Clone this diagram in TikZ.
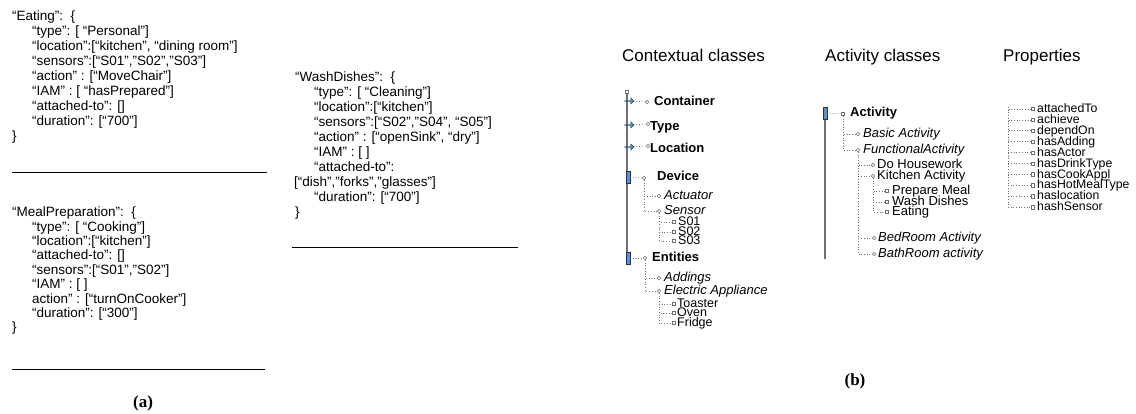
\documentclass[tikz,border=0pt]{standalone}
\usepackage{fontspec}
\newfontfamily\arial{Liberation Sans}
\newfontfamily\capserif{Liberation Serif}
\usetikzlibrary{shapes.arrows}
\definecolor{mblue}{HTML}{5B8FD6}
\definecolor{mdark}{HTML}{1F3550}
\definecolor{vgray}{HTML}{707070}
\definecolor{dgray}{HTML}{707070}
\tikzset{
  txt/.style={anchor=west, inner sep=0pt, text height=0.72em, text depth=0pt},
  json/.style={txt, font=\arial\fontsize{13.5}{15}\selectfont},
  head/.style={txt, font=\arial\fontsize{17}{19}\selectfont},
  lone/.style={txt, font=\arial\bfseries\fontsize{13}{15}\selectfont},
  ltwo/.style={txt, font=\arial\itshape\fontsize{13}{15}\selectfont},
  lreg/.style={txt, font=\arial\fontsize{13}{15}\selectfont},
  leaf/.style={txt, font=\arial\fontsize{12.5}{14}\selectfont},
  prop/.style={txt, font=\arial\fontsize{12.3}{14}\selectfont},
  subcap/.style={inner sep=0pt, font=\capserif\bfseries\fontsize{17}{19}\selectfont},
  rule/.style={draw=black, line width=0.7pt},
  dotc/.style={draw=dgray, dotted, line width=0.7pt},
  vbar/.style={draw=vgray, line width=2.2pt},
  circ/.style={circle, draw=dgray, fill=white, inner sep=0pt, minimum size=3.6pt, line width=0.5pt},
  sq/.style={rectangle, draw=dgray, fill=white, inner sep=0pt, minimum size=3.4pt, line width=0.5pt},
  rmark/.style={single arrow, fill=mblue, draw=mdark, line width=0.4pt, inner sep=0pt,
    minimum height=9pt, minimum width=6pt, single arrow head extend=1pt},
  dmark/.style={rectangle, fill=mblue, draw=mdark, line width=0.4pt, inner sep=0pt,
    minimum width=4pt, minimum height=12pt},
}
\begin{document}
\begin{tikzpicture}[x=1pt,y=-1pt]
\useasboundingbox (0,0) rectangle (1136,413);
\fill[white] (0,0) rectangle (1136,413);

% ---------------- panel (a) ----------------
\node[json] (e0) at (12,17) {“Eating”:\ \ \{};
\node[json] (e1) at (32,32) {“type”: [ “Personal”]};
\node[json] (e2) at (32,47) {“location”:[“kitchen”, “dining room”]};
\node[json] (e3) at (32,62) {“sensors”:[“S01”,”S02”,”S03”]};
\node[json] (e4) at (32,77) {“action” : [“MoveChair”]};
\node[json] (e5) at (32,92) {“IAM” : [ “hasPrepared”]};
\node[json] (e6) at (32,107) {“attached-to”: []};
\node[json] (e7) at (32,122) {“duration”: [“700”]};
\node[json] (e8) at (12,137) {\}};
\coordinate (eL) at (12,172); \coordinate (eR) at (267,172);
\draw[rule] (eL) -- (eR);

\node[json] (m0) at (12,213) {“MealPreparation”:\ \ \{};
\node[json] (m1) at (32,227.4) {“type”: [ “Cooking”]};
\node[json] (m2) at (32,241.8) {“location”:[“kitchen”]};
\node[json] (m3) at (32,256.2) {“attached-to”: []};
\node[json] (m4) at (32,270.6) {“sensors”:[“S01”,”S02”]};
\node[json] (m5) at (32,285) {“IAM” : [ ]};
\node[json] (m6) at (32,299.4) {action” : [“turnOnCooker”]};
\node[json] (m7) at (32,313.8) {“duration”: [“300”]};
\node[json] (m8) at (12,328.2) {\}};
\coordinate (mL) at (12,369); \coordinate (mR) at (265,369);
\draw[rule] (mL) -- (mR);

\node[json] (w0) at (295,78) {“WashDishes”:\ \ \{};
\node[json] (w1) at (314,93) {“type”: [ “Cleaning”]};
\node[json] (w2) at (314,108) {“location”:[“kitchen”]};
\node[json] (w3) at (314,123) {“sensors”:[“S02”,”S04”, “S05”]};
\node[json] (w4) at (314,138) {“action” : [“openSink”, “dry”]};
\node[json] (w5) at (314,153) {“IAM” : [ ]};
\node[json] (w6) at (314,168) {“attached-to”:};
\node[json] (w7) at (294,183) {[“dish”,”forks”,”glasses”]};
\node[json] (w8) at (314,198) {“duration”: [“700”]};
\node[json] (w9) at (295,213) {\}};
\coordinate (wL) at (292,247); \coordinate (wR) at (518,247);
\draw[rule] (wL) -- (wR);

\node[subcap] (capa) at (143,403) {(a)};

% ---------------- panel (b): contextual classes ----------------
\node[head] (hc) at (622,58) {Contextual classes};
\coordinate (ctop) at (627,93);
\coordinate (cbot) at (627,263);
\draw[vbar] (ctop) -- (cbot);
\node[sq] (croot) at (627,92) {};

\node[rmark] (c1m) at (629,101) {};
\node[circ] (c1c) at (647,102) {};
\node[lone] (c1) at (654,102) {Container};
\draw[dotc] (c1m) -- (c1c);

\node[rmark] (c2m) at (629,125) {};
\node[circ] (c2c) at (648,124) {};
\node[lone] (c2) at (650,127) {Type};
\draw[dotc] (c2m) -- (c2c);

\node[rmark] (c3m) at (629,147) {};
\node[circ] (c3c) at (648,146) {};
\node[lone] (c3) at (650,149) {Location};
\draw[dotc] (c3m) -- (c3c);

\node[dmark] (c4m) at (628,177) {};
\node[circ] (c4c) at (644,178) {};
\node[lone] (c4) at (657,177) {Device};
\draw[dotc] (c4m) -- (c4c);
\node[circ] (actc) at (659,196) {};
\node[ltwo] (act) at (664,196) {Actuator};
\node[circ] (senc) at (659,211) {};
\node[ltwo] (sen) at (664,211) {Sensor};
\draw[dotc] (c4c) |- (actc);
\draw[dotc] (c4c) |- (senc);
\node[sq] (s1c) at (674,222) {};
\node[leaf] (s1) at (678,222) {S01};
\node[sq] (s2c) at (674,232) {};
\node[leaf] (s2) at (678,232) {S02};
\node[sq] (s3c) at (674,241) {};
\node[leaf] (s3) at (678,241) {S03};
\draw[dotc] (senc) |- (s1c);
\draw[dotc] (senc) |- (s2c);
\draw[dotc] (senc) |- (s3c);

\node[dmark] (c5m) at (628,258) {};
\node[circ] (c5c) at (645,258) {};
\node[lone] (c5) at (652,258) {Entities};
\draw[dotc] (c5m) -- (c5c);
\node[circ] (addc) at (659,278) {};
\node[ltwo] (add) at (664,278) {Addings};
\node[circ] (elc) at (659,291) {};
\node[ltwo] (el) at (664,291) {Electric Appliance};
\draw[dotc] (c5c) |- (addc);
\draw[dotc] (c5c) |- (elc);
\node[sq] (t1c) at (674,304) {};
\node[leaf] (t1) at (677,304) {Toaster};
\node[sq] (t2c) at (674,313) {};
\node[leaf] (t2) at (677,313) {Oven};
\node[sq] (t3c) at (674,323) {};
\node[leaf] (t3) at (677,323) {Fridge};
\draw[dotc] (elc) |- (t1c);
\draw[dotc] (elc) |- (t2c);
\draw[dotc] (elc) |- (t3c);

% ---------------- activity classes ----------------
\node[head] (ha) at (825,58) {Activity classes};
\coordinate (atop) at (825,108);
\coordinate (abot) at (825,259);
\draw[vbar] (atop) -- (abot);
\node[dmark] (a0m) at (825,113) {};
\node[sq] (a0c) at (843,114) {};
\node[lone] (a0) at (850,113) {Activity};
\draw[dotc] (a0m) -- (a0c);
\node[circ] (basc) at (858,134) {};
\node[ltwo] (bas) at (863,134) {Basic Activity};
\node[circ] (func) at (858,150) {};
\node[ltwo] (fun) at (863,150) {FunctionalActivity};
\draw[dotc] (a0c) |- (basc);
\draw[dotc] (a0c) |- (func);
\node[circ] (doc) at (873,165) {};
\node[lreg] (do) at (877,165) {Do Housework};
\node[circ] (kic) at (873,176) {};
\node[lreg] (ki) at (877,176) {Kitchen Activity};
\node[circ] (bec) at (874,238) {};
\node[ltwo] (be) at (878,238) {BedRoom Activity};
\node[circ] (bac) at (874,254) {};
\node[ltwo] (ba) at (878,254) {BathRoom activity};
\draw[dotc] (func) |- (doc);
\draw[dotc] (func) |- (kic);
\draw[dotc] (func) |- (bec);
\draw[dotc] (func) |- (bac);
\node[sq] (k1c) at (887,191) {};
\node[lreg] (k1) at (892,191) {Prepare Meal};
\node[sq] (k2c) at (887,202) {};
\node[lreg] (k2) at (892,202) {Wash Dishes};
\node[sq] (k3c) at (887,212) {};
\node[lreg] (k3) at (892,212) {Eating};
\draw[dotc] (kic) |- (k1c);
\draw[dotc] (kic) |- (k2c);
\draw[dotc] (kic) |- (k3c);

% ---------------- properties ----------------
\node[head] (hp) at (1003,58) {Properties};
\coordinate (proot) at (1008,107);
\foreach \t [count=\i from 0] in {attachedTo,achieve,dependOn,hasAdding,hasActor,hasDrinkType,hasCookAppl,hasHotMealType,haslocation,hashSensor}{
  \node[sq] (p\i c) at (1033,109+10.9*\i) {};
  \node[prop] (p\i) at (1037,109+10.9*\i) {\t};
  \draw[dotc] (proot) |- (p\i c);
}

\node[subcap] (capb) at (855,381) {(b)};
\end{tikzpicture}
\end{document}
